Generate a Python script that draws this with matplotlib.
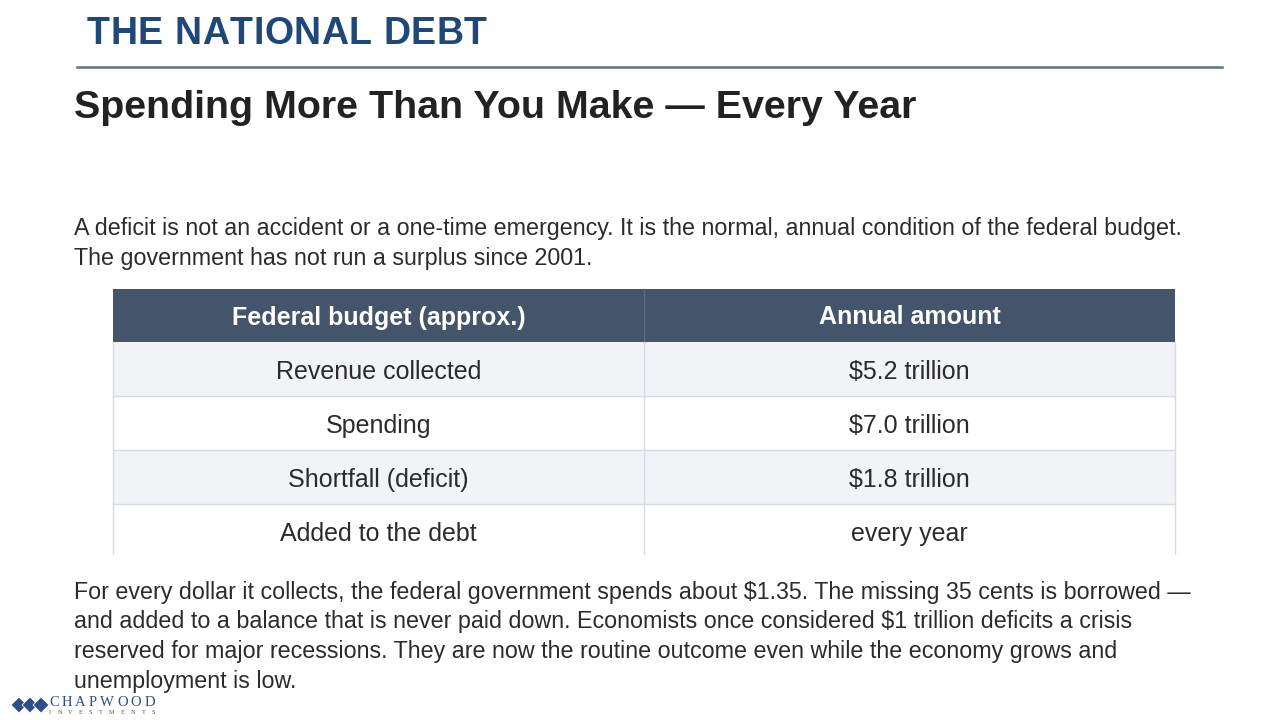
import matplotlib
matplotlib.use('Agg')
import matplotlib.pyplot as plt
from matplotlib.patches import Rectangle, Polygon

plt.rcParams['font.family'] = ['Liberation Sans', 'DejaVu Sans']

header = "THE NATIONAL DEBT"
title = "Spending More Than You Make \u2014 Every Year"
intro = ["A deficit is not an accident or a one-time emergency. It is the normal, annual condition of the federal budget.",
         "The government has not run a surplus since 2001."]
col_labels = ["Federal budget (approx.)", "Annual amount"]
row_labels = ["Revenue collected", "Spending", "Shortfall (deficit)", "Added to the debt"]
row_values = ["$5.2 trillion", "$7.0 trillion", "$1.8 trillion", "every year"]
outro = ["For every dollar it collects, the federal government spends about $1.35. The missing 35 cents is borrowed \u2014",
         "and added to a balance that is never paid down. Economists once considered $1 trillion deficits a crisis",
         "reserved for major recessions. They are now the routine outcome even while the economy grows and",
         "unemployment is low."]
logo_name = "CHAPWOOD"
logo_sub = "INVESTMENTS"

fig = plt.figure(figsize=(12.8, 7.2), dpi=100)
ax = fig.add_axes([0, 0, 1, 1])
ax.set_xlim(0, 1280)
ax.set_ylim(720, 0)
ax.axis('off')
renderer = fig.canvas.get_renderer()

txt = '#2b2b2b'


def tracked(s, x_left, x_right, y, **kw):
    # lay letters out so the word spans x_left..x_right
    arts = [ax.text(0, y, ch, ha='left', va='center', **kw) for ch in s]
    widths = [a.get_window_extent(renderer).width for a in arts]
    gap = (x_right - x_left - sum(widths)) / (len(s) - 1)
    x = x_left
    for a, w in zip(arts, widths):
        a.set_x(x)
        x += w + gap


# header band
tracked(header.replace(' ', '\u00a0'), 87, 487, 34, fontsize=27, fontweight='bold', color='#1f4778')
ax.plot([77, 1222], [67, 67], color='#5f7282', lw=1.8)
ax.text(74, 108, title, fontsize=28.4, fontweight='bold', color='#222222', va='center', ha='left')

for i, line in enumerate(intro):
    ax.text(74, 228 + i * 30, line, fontsize=16.75, color=txt, va='center', ha='left')

# table
x0, xm, x1 = 113, 644, 1175
top, head_h, row_h = 289, 53, 54
ax.add_patch(Rectangle((x0, top), x1 - x0, head_h, color='#44546a', lw=0))
ax.plot([xm, xm], [top, top + head_h], color='#5d6b7e', lw=1)
for j, lab in enumerate(col_labels):
    cx = (x0 + xm) / 2 if j == 0 else (xm + x1) / 2
    ax.text(cx, top + head_h / 2 + 2, lab, fontsize=18, fontweight='bold', color='white', ha='center', va='center')

for i, (lab, val) in enumerate(zip(row_labels, row_values)):
    y = top + head_h + i * row_h
    h = row_h if i < len(row_labels) - 1 else 50
    fc = '#f1f3f7' if i % 2 == 0 else 'white'
    ax.add_patch(Rectangle((x0, y), x1 - x0, h, facecolor=fc, lw=0))
    if i > 0:
        ax.plot([x0, x1], [y, y], color='#d7dbe2', lw=1)
    ax.text((x0 + xm) / 2, y + row_h / 2 + 3, lab, fontsize=18, color=txt, ha='center', va='center')
    ax.text((xm + x1) / 2, y + row_h / 2 + 3, val, fontsize=18, color=txt, ha='center', va='center')
    for xx in (x0, xm, x1):
        ax.plot([xx, xx], [y, y + h], color='#d7dbe2', lw=1)

for i, line in enumerate(outro):
    ax.text(74, 592 + i * 29.7, line, fontsize=16.75, color=txt, va='center', ha='left')

# logo
for k in range(3):
    cx = 19 + k * 11
    ax.add_patch(Polygon([[cx - 8, 705], [cx, 697], [cx + 8, 705], [cx, 713]], closed=True,
                         facecolor='#2d4f85', edgecolor='white', lw=0.6))
tracked(logo_name, 49, 155, 703, fontsize=10.5, family='Liberation Serif', color='#2d4f85')
tracked(logo_sub, 49, 155, 713, fontsize=4.6, family='Liberation Serif', color='#555555')

fig.savefig('out.png', dpi=100, facecolor='white')
